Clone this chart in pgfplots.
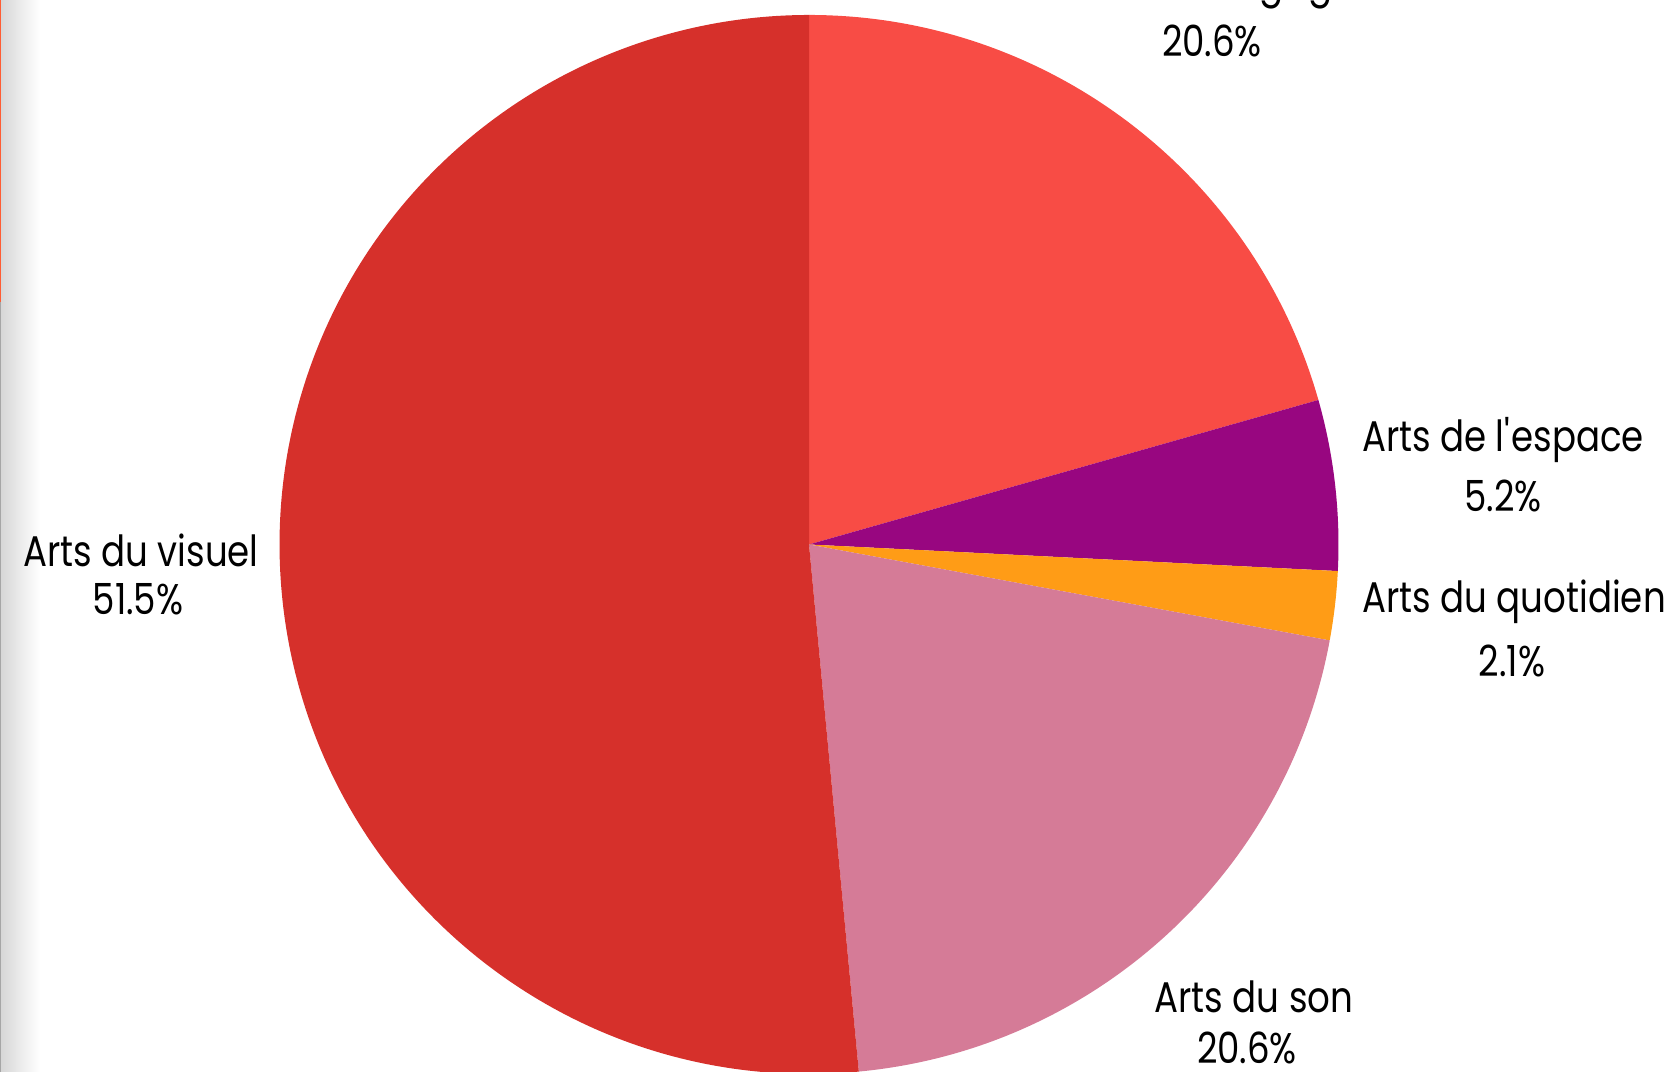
\documentclass[border=0pt]{standalone}
\usepackage{pgfplots}
\pgfplotsset{compat=1.18}
\usepackage{pgfplotstable}
\usepackage{fontspec}
\setmainfont[FakeStretch=0.83]{Poppins}
\definecolor{clangage}{HTML}{F84C45}
\definecolor{cespace}{HTML}{980680}
\definecolor{cquotidien}{HTML}{FF9C16}
\definecolor{cson}{HTML}{D57B97}
\definecolor{cvisuel}{HTML}{D6302B}

\pgfplotstableread{
value col
20.6 clangage
5.2 cespace
2.1 cquotidien
20.6 cson
51.5 cvisuel
}\piedata

\begin{document}
\begin{tikzpicture}
\useasboundingbox (0,0) rectangle (16.79cm,10.72cm);
\clip (0,0) rectangle (16.79cm,10.72cm);
\shade[left color=black!16, right color=white] (0,0) rectangle (0.4cm,10.72cm);
\fill[red!60!orange!80] (0,7.7cm) rectangle (0.015cm,10.72cm);
\fill[black!35] (0,0) rectangle (0.015cm,7.7cm);
\begin{axis}[
  at={(0,0)}, anchor=south west,
  scale only axis, width=16.79cm, height=10.72cm,
  xmin=-8.09, xmax=8.70, ymin=-5.275, ymax=5.445,
  hide axis, clip=false,
]
\pgfplotsextra{
  \def\cum{0}
  \def\R{5.295cm}
  \pgfplotsforeachungrouped \i in {0,...,4}{
    \pgfplotstablegetelem{\i}{value}\of\piedata \let\val\pgfplotsretval
    \pgfplotstablegetelem{\i}{col}\of\piedata \let\slicecol\pgfplotsretval
    \pgfmathsetmacro\aa{90-\cum*3.6}
    \pgfmathsetmacro\bb{90-(\cum+\val)*3.6}
    \fill[\slicecol] (axis cs:0,0) -- ++(\aa:\R) arc[start angle=\aa, end angle=\bb, radius=\R] -- cycle;
    \pgfmathsetmacro\cum{\cum+\val}
  }
}
\tikzset{lab/.style={anchor=base, font=\fontsize{12.2}{14}\selectfont, text=black, inner sep=0pt}}
\node[lab] at (axis cs:4.03,5.465) {Arts du langage};
\node[lab] at (axis cs:4.03,4.875) {20.6\%};
\node[lab] at (axis cs:6.94,0.925) {Arts de l\textquotesingle espace};
\node[lab] at (axis cs:6.94,0.325) {5.2\%};
\node[lab] at (axis cs:7.05,-0.685) {Arts du quotidien};
\node[lab] at (axis cs:7.03,-1.325) {2.1\%};
\node[lab] at (axis cs:4.45,-4.685) {Arts du son};
\node[lab] at (axis cs:4.38,-5.195) {20.6\%};
\node[lab] at (axis cs:-6.68,-0.225) {Arts du visuel};
\node[lab] at (axis cs:-6.71,-0.705) {51.5\%};
\end{axis}
\end{tikzpicture}
\end{document}
